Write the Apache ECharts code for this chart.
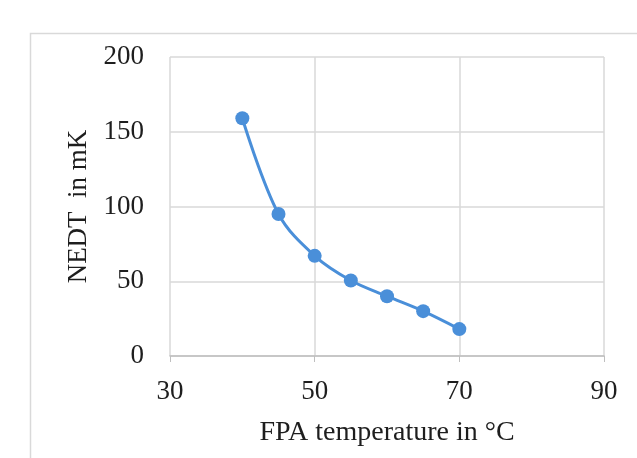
<!DOCTYPE html>
<html><head><meta charset="utf-8">
<script src="https://cdn.jsdelivr.net/npm/echarts@6/dist/echarts.min.js"></script>
<style>html,body{margin:0;padding:0;background:#fff}#c{width:637px;height:458px}</style>
</head><body><div id="c"></div>
<script>
const fpaTemp = [40, 45, 50, 55, 60, 65, 70];
const nedt = [159, 95, 67, 50.5, 40, 30, 18];
const xTicks = [30, 50, 70, 90];
const yTicks = [0, 50, 100, 150, 200];

const chart = echarts.init(document.getElementById('c'));
chart.setOption({
  animation: false,
  backgroundColor: '#fff',
  graphic: [{
    type: 'rect', shape: {x: 30.5, y: 33.5, width: 640, height: 460},
    style: {fill: 'none', stroke: '#d9d9d9', lineWidth: 1.5}, silent: true
  }],
  grid: {left: 170, right: 33, top: 57, bottom: 102},
  xAxis: {
    type: 'value', min: 30, max: 90, interval: 20,
    name: 'FPA temperature in °C', nameLocation: 'middle', nameGap: 63,
    nameTextStyle: {fontFamily: 'Liberation Serif', fontSize: 28, color: '#1e1e1e'},
    axisLine: {show: true, lineStyle: {color: '#bfbfbf', width: 1.5}},
    axisTick: {show: true, length: 6, lineStyle: {color: '#bfbfbf'}},
    axisLabel: {fontFamily: 'Liberation Serif', fontSize: 27, color: '#1e1e1e', margin: 22,
      formatter: v => xTicks.includes(v) ? String(v) : ''},
    splitLine: {show: true, lineStyle: {color: '#d9d9d9', width: 1.5}}
  },
  yAxis: {
    type: 'value', min: 0, max: 200, interval: 50,
    name: 'NEDT  in mK', nameLocation: 'middle', nameGap: 70,
    nameTextStyle: {fontFamily: 'Liberation Serif', fontSize: 27, color: '#1e1e1e'},
    axisLine: {show: false}, axisTick: {show: false},
    axisLabel: {fontFamily: 'Liberation Serif', fontSize: 27, color: '#1e1e1e', margin: 26,
      formatter: v => yTicks.includes(v) ? String(v) : ''},
    splitLine: {show: true, lineStyle: {color: '#d9d9d9', width: 1.5}}
  },
  series: [{
    type: 'line', smooth: 0.35,
    data: fpaTemp.map((x, i) => [x, nedt[i]]),
    symbol: 'circle', symbolSize: 14,
    lineStyle: {color: '#4a8fd9', width: 3},
    itemStyle: {color: '#4a8fd9'}
  }]
});
</script></body></html>
